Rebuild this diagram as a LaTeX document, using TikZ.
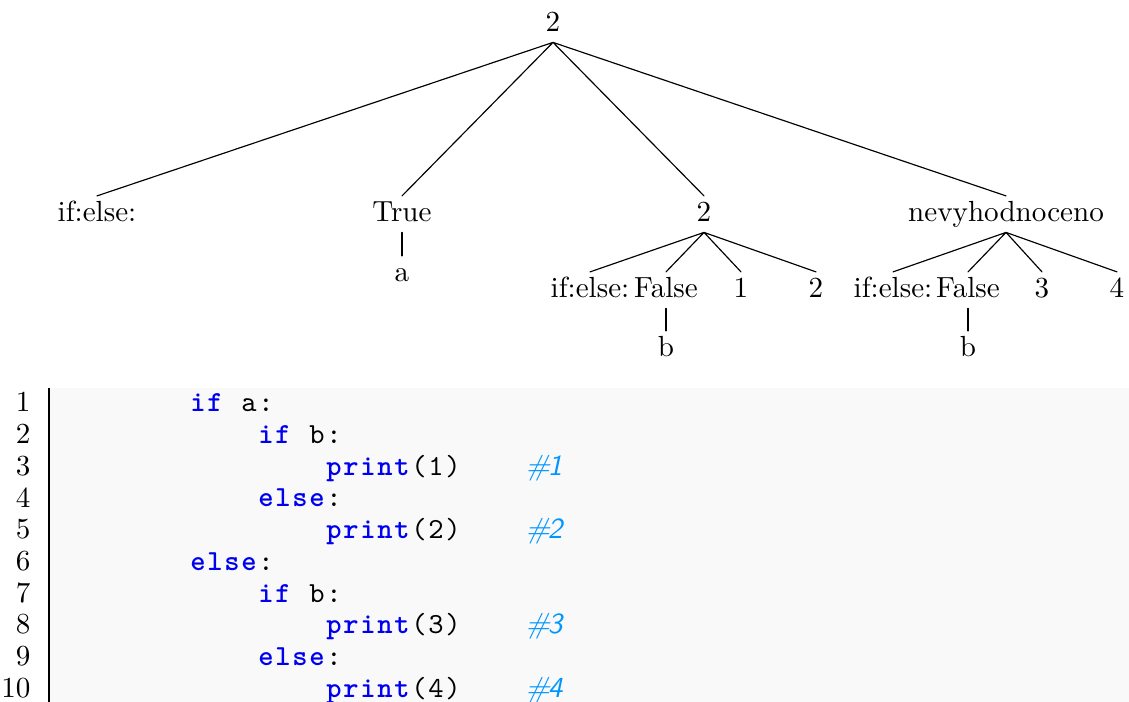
\documentclass[tikz,border=0pt]{standalone}
\usepackage{xcolor}
\definecolor{kwblue}{RGB}{0,0,240}
\definecolor{cmblue}{RGB}{0,150,255}
\definecolor{codebg}{gray}{0.975}
\newlength\cellw \setlength\cellw{5.84pt}
\def\fixcols#1{\fixcolsA#1\relax}
\def\fixcolsA#1{\ifx\relax#1\else\makebox[\cellw][c]{#1}\expandafter\fixcolsA\fi}
\newcommand\kw[1]{{\color{kwblue}\bfseries\fixcols{#1}}}
\newcommand\cm[1]{{\color{cmblue}\sffamily\itshape\fixcols{#1}}}
\newcommand\tx[1]{\fixcols{#1}}
\tikzset{
  tnode/.style={anchor=base,text height=1.5ex,text depth=.25ex,inner sep=2.3pt},
  lnum/.style={anchor=base east,inner sep=0pt},
  codeline/.style={anchor=base west,inner sep=0pt,font=\ttfamily}
}
\begin{document}
\begin{tikzpicture}[x=0.3436pt,y=-0.3436pt,line cap=round]
\useasboundingbox (0,0) rectangle (1129,702);
% tree
\node[tnode] (root) at (553,32) {2};
\node[tnode] (ie1) at (97,222) {if:else:};
\node[tnode] (tru) at (402,222) {True};
\node[tnode] (two) at (704,222) {2};
\node[tnode] (nev) at (1006,222) {nevyhodnoceno};
\node[tnode] (a1) at (402,282) {a};
\node[tnode] (ie2) at (590,298) {if:else:};
\node[tnode] (fal2) at (666,298) {False};
\node[tnode] (one) at (741,298) {1};
\node[tnode] (tw2) at (816,298) {2};
\node[tnode] (ie3) at (893,298) {if:else:};
\node[tnode] (fal3) at (968,298) {False};
\node[tnode] (thr) at (1042,298) {3};
\node[tnode] (fou) at (1117,298) {4};
\node[tnode] (b2) at (666,357) {b};
\node[tnode] (b3) at (968,357) {b};
\draw (root.south)--(ie1.north) (root.south)--(tru.north) (root.south)--(two.north) (root.south)--(nev.north);
\draw (tru.south)--(a1.north);
\draw (two.south)--(ie2.north) (two.south)--(fal2.north) (two.south)--(one.north) (two.south)--(tw2.north);
\draw (nev.south)--(ie3.north) (nev.south)--(fal3.north) (nev.south)--(thr.north) (nev.south)--(fou.north);
\draw (fal2.south)--(b2.north) (fal3.south)--(b3.north);
% listing
\fill[codebg] (49,388) rectangle (1129,702);
\draw[line cap=butt] (49,388)--(49,702);
\foreach \n in {1,...,10}
  \node[lnum] (n\n) at (31,{412+(\n-1)*31.67}) {\n};
\node[codeline] (c1) at (189,412) {\kw{if}\tx{~a:}};
\node[codeline] (c2) at (189,443.67) {\tx{~~~~}\kw{if}\tx{~b:}};
\node[codeline] (c3) at (189,475.33) {\tx{~~~~~~~~}\kw{print}\tx{(1)~~~~}\cm{\#1}};
\node[codeline] (c4) at (189,507) {\tx{~~~~}\kw{else}\tx{:}};
\node[codeline] (c5) at (189,538.67) {\tx{~~~~~~~~}\kw{print}\tx{(2)~~~~}\cm{\#2}};
\node[codeline] (c6) at (189,570.33) {\kw{else}\tx{:}};
\node[codeline] (c7) at (189,602) {\tx{~~~~}\kw{if}\tx{~b:}};
\node[codeline] (c8) at (189,633.67) {\tx{~~~~~~~~}\kw{print}\tx{(3)~~~~}\cm{\#3}};
\node[codeline] (c9) at (189,665.33) {\tx{~~~~}\kw{else}\tx{:}};
\node[codeline] (c10) at (189,697) {\tx{~~~~~~~~}\kw{print}\tx{(4)~~~~}\cm{\#4}};
\end{tikzpicture}
\end{document}
